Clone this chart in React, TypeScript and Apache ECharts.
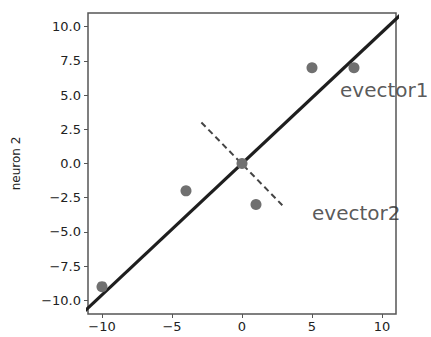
import React, { useEffect, useRef } from "react";
import * as echarts from "echarts";

const pointsX = [-10, -4, 0, 1, 5, 8];
const pointsY = [-9, -2, 0, -3, 7, 7];
const evector1Line = [[-12, -11.52], [12, 11.52]];
const evector2Line = [[-2.9, 3.0], [2.88, -3.05]];
const xTicks = [-10, -5, 0, 5, 10];
const yTicks = [-10, -7.5, -5, -2.5, 0, 2.5, 5, 7.5, 10];
const labelTexts = ["evector1", "evector2"];
const labelX = [7.0, 5.0];
const labelY = [5.35, -3.65];

const minus = (s: string) => s.replace("-", "\u2212");

export default function App() {
  const ref = useRef<HTMLDivElement>(null);
  useEffect(() => {
    if (!ref.current) return;
    const chart = echarts.init(ref.current, null, { renderer: "svg" });
    const font = "DejaVu Sans";
    chart.setOption({
      animation: false,
      backgroundColor: "#ffffff",
      grid: {
        left: 88,
        right: 35,
        top: 13,
        bottom: 23,
        show: true,
        borderColor: "#555555",
        borderWidth: 1.5,
      },
      xAxis: {
        type: "value",
        min: -11,
        max: 11,
        axisLine: { show: false, onZero: false },
        splitLine: { show: false },
        axisTick: {
          show: true,
          length: 4,
          customValues: xTicks,
          lineStyle: { color: "#555555", width: 1 },
        },
        axisLabel: {
          customValues: xTicks,
          formatter: (v: number) => minus(String(v)),
          color: "#222222",
          fontFamily: font,
          fontSize: 13,
          margin: 6,
        },
      },
      yAxis: {
        type: "value",
        min: -11,
        max: 11,
        name: "neuron 2",
        nameLocation: "middle",
        nameGap: 66,
        nameTextStyle: { color: "#222222", fontFamily: font, fontSize: 12 },
        axisLine: { show: false, onZero: false },
        splitLine: { show: false },
        axisTick: {
          show: true,
          length: 4,
          customValues: yTicks,
          lineStyle: { color: "#555555", width: 1 },
        },
        axisLabel: {
          customValues: yTicks,
          formatter: (v: number) => minus(v.toFixed(1)),
          color: "#222222",
          fontFamily: font,
          fontSize: 13,
          margin: 7,
        },
      },
      series: [
        {
          type: "line",
          data: evector1Line,
          symbol: "none",
          clip: true,
          lineStyle: { color: "#1e1e1e", width: 3.2 },
          z: 2,
        },
        {
          type: "line",
          data: evector2Line,
          symbol: "none",
          lineStyle: { color: "#444444", width: 2, type: [6, 4] },
          z: 2,
        },
        {
          type: "scatter",
          data: pointsX.map((x, i) => [x, pointsY[i]]),
          symbolSize: 11,
          itemStyle: { color: "#707070", opacity: 1 },
          z: 3,
        },
        {
          type: "scatter",
          data: labelTexts.map((t, i) => ({ value: [labelX[i], labelY[i]], name: t })),
          symbolSize: 0,
          silent: true,
          label: {
            show: true,
            position: "inside",
            align: "left",
            verticalAlign: "middle",
            formatter: (p: any) => p.name,
            color: "#2e2e2e",
            fontFamily: font,
            fontSize: 20,
          },
          z: 4,
        },
      ],
    });
    return () => chart.dispose();
  }, []);
  return (
    <div
      ref={ref}
      style={{ position: "fixed", left: 0, top: 0, width: 431, height: 337 }}
    />
  );
}
